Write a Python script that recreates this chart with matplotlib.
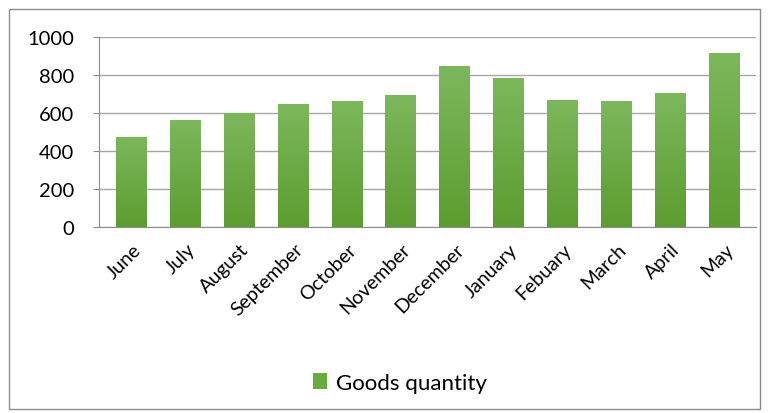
import numpy as np
import matplotlib
matplotlib.use('Agg')
import matplotlib.pyplot as plt
import matplotlib.transforms as mtrans
from matplotlib.patches import Rectangle
from matplotlib.colors import LinearSegmentedColormap

months = ['June', 'July', 'August', 'September', 'October', 'November',
          'December', 'January', 'Febuary', 'March', 'April', 'May']
quantity = [474, 565, 602, 650, 661, 695, 847, 783, 670, 663, 704, 918]
yticks = [0, 200, 400, 600, 800, 1000]

plt.rcParams['font.family'] = ['Lato', 'DejaVu Sans']

fig = plt.figure(figsize=(7.69, 4.14), dpi=100)
# outer chart frame
fig.patches.append(Rectangle((9 / 769, 4 / 414), 751 / 769, 400 / 414,
                             transform=fig.transFigure, fill=False,
                             edgecolor='#8c8c8c', linewidth=1))

ax = fig.add_axes([99 / 769, 1 - 228 / 414, 657 / 769, 190 / 414])
x = np.arange(len(months))
bars = ax.bar(x, quantity, width=0.56, color='#6aab40', zorder=3, label='Goods quantity')

# vertical gradient inside each bar
grad = LinearSegmentedColormap.from_list('g', ['#5c9d30', '#7db75c'])
img = np.linspace(0, 1, 256).reshape(-1, 1)
for b in bars:
    x0, w, h = b.get_x(), b.get_width(), b.get_height()
    im = ax.imshow(img, cmap=grad, origin='lower', aspect='auto',
                   extent=[x0, x0 + w, 0, h], zorder=4)
    im.set_clip_path(b)

ax.set_xlim(-0.6, len(months) - 0.4)
ax.set_ylim(0, 1000)
ax.set_yticks(yticks)
ax.set_yticklabels([str(v) for v in yticks], fontsize=14.5)
ax.set_xticks(x)
ax.set_xticklabels(months, rotation=45, ha='right', va='center',
                   rotation_mode='anchor', fontsize=14)
ax.tick_params(axis='x', length=0, pad=14)
ax.tick_params(axis='y', length=4, color='#8c8c8c', pad=14)
shift = mtrans.ScaledTranslation(7 / 100, 0, fig.dpi_scale_trans)
for lab in ax.get_xticklabels():
    lab.set_transform(lab.get_transform() + shift)
ax.grid(axis='y', color='#a6a6a6', linewidth=1, zorder=0)
for s in ['top', 'right']:
    ax.spines[s].set_visible(False)
for s in ['left', 'bottom']:
    ax.spines[s].set_color('#8c8c8c')
ax.spines['bottom'].set_zorder(5)

handle = Rectangle((0, 0), 1, 1, facecolor='#6aab40')
fig.legend([handle], ['Goods quantity'], loc='center', bbox_to_anchor=(400 / 769, 1 - 384 / 414),
           frameon=False, fontsize=16, handlelength=0.6, handleheight=0.7, handletextpad=0.4)

fig.savefig('out.png', dpi=100)
